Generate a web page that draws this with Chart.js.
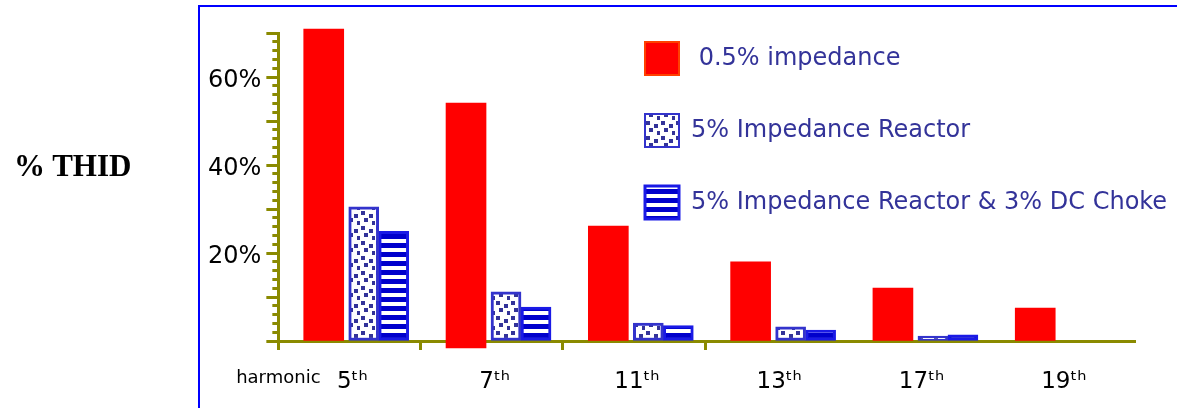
<!DOCTYPE html>
<html>
<head>
<meta charset="utf-8">
<script src="https://cdn.jsdelivr.net/npm/chart.js@4.4.1/dist/chart.umd.min.js"></script>
<style>
  html, body { margin: 0; padding: 0; background: #fff; overflow: hidden; }
  #wrap { position: relative; width: 1177px; height: 408px; }
  #plot { position: absolute; left: 0; top: 0; }
  #frame {
    position: absolute; left: 198px; top: 5px; width: 1100px; height: 500px;
    border-left: 2px solid #0000ff; border-top: 2px solid #0000ff; pointer-events: none;
  }
  #ytitle {
    position: absolute; left: 14px; top: 150px;
    font: bold 31px/31px "Liberation Serif", serif; color: #000; white-space: nowrap;
  }
</style>
</head>
<body>
<div id="wrap">
  <canvas id="plot" width="1177" height="408"></canvas>
  <div id="frame"></div>
  <div id="ytitle">% THID</div>
</div>
<script>
// Harmonic orders on the x axis
const harmonics = ['5th', '7th', '11th', '13th', '17th', '19th'];
const harmonicTickText = ['5ᵗʰ', '7ᵗʰ', '11ᵗʰ', '13ᵗʰ', '17ᵗʰ', '19ᵗʰ'];
const xAxisName = 'harmonic';

// Current distortion per harmonic, in percent
const impedance05 = [70.9, 54.1, 26.1, 18.0, 12.0, 7.5];
const impedance05Base = [0, -1.6, 0, 0, 0, 0];
const reactor5 = [30.5, 11.2, 4.1, 3.2, 1.1];
const reactor5Choke3 = [24.9, 7.7, 3.5, 2.5, 1.4];

const seriesNames = [' 0.5% impedance', '5% Impedance Reactor', '5% Impedance Reactor & 3% DC Choke'];
const yLabelTicks = [20, 40, 60];

// Axis styling / layout constants
const OLIVE = '#8a8a00';
const X_MIN = -0.6, X_MAX = 5.42;
const MARK_COUNT = 4;        // tick marks along the harmonic axis
const LABEL_SHIFT = -0.08;   // harmonic labels sit slightly left of each group
const Y_MAX = 70, Y_MINOR = 2;
const X_AXIS_HEIGHT = 67;
const LEGEND_BOX_X = 645, LEGEND_BOX_Y = 42;

const canvas = document.getElementById('plot');
const ctx = canvas.getContext('2d');

function tilePattern(w, h, paint) {
  const t = document.createElement('canvas');
  t.width = w; t.height = h;
  paint(t.getContext('2d'));
  return ctx.createPattern(t, 'repeat');
}

// white with scattered navy squares
const dotFill = tilePattern(15, 15, g => {
  g.fillStyle = '#ffffff'; g.fillRect(0, 0, 15, 15);
  g.fillStyle = '#333399';
  [[1, 1], [9, 4], [4, 8], [12, 11]].forEach(([x, y]) => g.fillRect(x, y, 4, 4));
});

// horizontal blue / white stripes
const stripeFill = tilePattern(4, 9, g => {
  g.fillStyle = '#ffffff'; g.fillRect(0, 0, 4, 9);
  g.fillStyle = '#0000cc'; g.fillRect(0, 0, 4, 5);
});

function isMark(v) {
  const k = Math.round(v - X_MIN);
  return Math.abs(v - X_MIN - k) < 1e-6 && k >= 0 && k < MARK_COUNT;
}

const legendPlacement = {
  id: 'legendPlacement',
  afterLayout(chart) {
    const lg = chart.legend;
    if (!lg) return;
    const pad = lg.options.labels.padding;
    lg.left = LEGEND_BOX_X - pad;
    lg.top = LEGEND_BOX_Y - pad;
    lg.right = lg.left + lg.width;
    lg.bottom = lg.top + lg.height;
  }
};

new Chart(ctx, {
  type: 'bar',
  data: {
    datasets: [
      {
        label: seriesNames[0],
        data: impedance05.map((v, i) => ({ x: i, y: [impedance05Base[i], v] })),
        backgroundColor: '#ff0000',
        borderColor: '#ff4000',
        borderWidth: 0,
        barThickness: 40,
        clip: false
      },
      {
        label: seriesNames[1],
        data: reactor5.map((v, i) => ({ x: i, y: v })),
        backgroundColor: dotFill,
        borderColor: '#3333cc',
        borderWidth: 3,
        borderSkipped: false,
        barThickness: 30
      },
      {
        label: seriesNames[2],
        data: reactor5Choke3.map((v, i) => ({ x: i, y: v })),
        backgroundColor: stripeFill,
        borderColor: '#1a1ae6',
        borderWidth: 3,
        borderSkipped: false,
        barThickness: 30
      }
    ]
  },
  options: {
    responsive: false,
    animation: false,
    devicePixelRatio: 1,
    layout: { padding: { left: 203, top: 33, right: 42, bottom: 0 } },
    scales: {
      x: {
        type: 'linear',
        min: X_MIN,
        max: X_MAX,
        offset: false,
        afterBuildTicks: scale => {
          const t = [];
          for (let k = 0; k < MARK_COUNT; k++) t.push({ value: X_MIN + k });
          harmonics.forEach((_, i) => t.push({ value: i + LABEL_SHIFT }));
          t.sort((a, b) => a.value - b.value);
          scale.ticks = t;
        },
        afterFit: scale => { scale.height = X_AXIS_HEIGHT; },
        border: { color: OLIVE, width: 3 },
        grid: {
          offset: false,
          drawOnChartArea: false,
          tickLength: 9,
          tickWidth: 3,
          tickColor: c => (c.tick && isMark(c.tick.value)) ? OLIVE : 'rgba(0,0,0,0)'
        },
        ticks: {
          autoSkip: false,
          maxRotation: 0,
          padding: 18,
          color: '#000',
          font: c => ({ family: 'DejaVu Sans', size: (c.tick && Math.abs(c.tick.value - X_MIN) < 1e-6) ? 18 : 23 }),
          callback: v => {
            if (Math.abs(v - X_MIN) < 1e-6) return xAxisName;
            if (isMark(v)) return '';
            return harmonicTickText[Math.round(v - LABEL_SHIFT)];
          }
        }
      },
      y: {
        min: 0,
        max: Y_MAX,
        afterBuildTicks: scale => {
          const t = [];
          for (let v = 0; v <= Y_MAX; v += Y_MINOR) t.push({ value: v });
          scale.ticks = t;
        },
        border: { color: OLIVE, width: 3 },
        grid: {
          drawOnChartArea: false,
          tickLength: 12,
          tickColor: OLIVE,
          tickWidth: 3,
          tickBorderDash: c => (c.tick && c.tick.value % 10 === 0) ? [] : [0, 6, 8, 100]
        },
        ticks: {
          autoSkip: false,
          padding: 5,
          labelOffset: 4,
          color: '#000',
          font: { family: 'DejaVu Sans', size: 24 },
          callback: v => yLabelTicks.includes(v) ? v + '%' : ''
        }
      }
    },
    plugins: {
      tooltip: { enabled: false },
      legend: {
        position: 'chartArea',
        align: 'start',
        labels: {
          boxWidth: 34,
          boxHeight: 33,
          padding: 39,
          color: '#333399',
          font: { family: 'DejaVu Sans', size: 24 },
          generateLabels: chart => {
            const items = Chart.defaults.plugins.legend.labels.generateLabels(chart);
            items[0].strokeStyle = '#ff4000';
            items[0].lineWidth = 2;
            items[1].lineWidth = 2;
            return items;
          }
        }
      }
    }
  },
  plugins: [legendPlacement]
});
</script>
</body>
</html>
